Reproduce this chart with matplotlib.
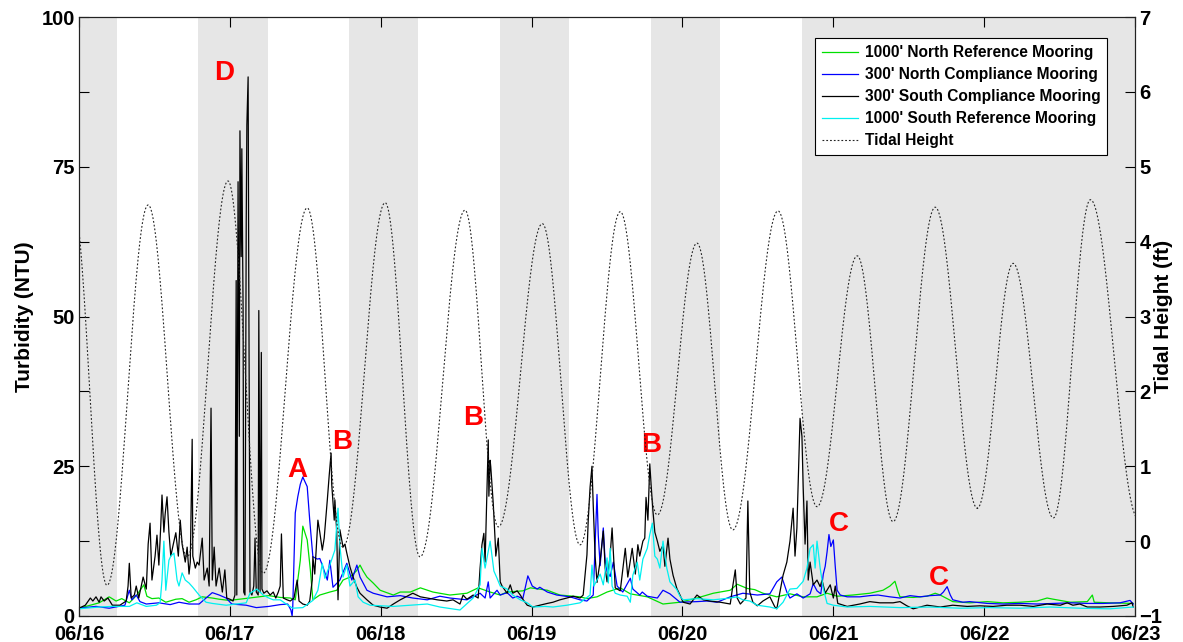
import numpy as np
import matplotlib
matplotlib.use("Agg")
import matplotlib.pyplot as plt
from matplotlib.ticker import FixedLocator

plt.rcParams['font.family'] = ['Liberation Sans', 'DejaVu Sans']
plt.rcParams['font.weight'] = 'bold'

# ---- data (time in hours since 06/16 00:00) ------------------------------
day_labels = ['06/16', '06/17', '06/18', '06/19', '06/20', '06/21', '06/22', '06/23']

# night-time periods (shaded)
night_start = [0, 19, 43, 67, 91, 115]
night_end = [6, 30, 54, 78, 102, 168]

# turbidity (NTU), (hour, value)
north_ref_1000 = [
    (0.0, 1.3), (1.8, 1.8), (3.2, 2.2), (4.8, 3.2), (5.9, 2.5), (6.8, 2.9), (8.0, 2.2), (9.2, 3.5),
    (10.3, 5.2), (10.8, 3.3), (11.6, 2.9), (12.7, 3.0), (13.8, 2.3), (15.4, 2.8), (16.4, 2.9),
    (17.5, 2.3), (18.6, 2.7), (19.6, 3.2), (21.2, 3.0), (22.3, 2.8), (23.9, 2.6), (25.5, 2.8),
    (27.1, 3.0), (28.6, 3.2), (30.2, 3.4), (32.0, 3.1), (33.6, 3.0), (34.4, 2.7), (35.2, 9.3),
    (35.6, 15.0), (36.3, 12.7), (36.8, 7.7), (37.2, 2.7), (38.3, 3.5), (39.9, 4.0), (41.0, 4.3),
    (42.0, 6.0), (43.1, 6.5), (44.1, 7.5), (44.7, 8.5), (45.2, 7.5), (45.8, 6.5), (46.8, 5.5),
    (47.9, 4.3), (50.0, 3.5), (51.1, 4.0), (52.7, 4.0), (54.3, 4.7), (56.3, 4.0), (59.0, 3.5),
    (61.7, 3.8), (63.5, 4.7), (65.4, 4.0), (67.0, 3.5), (68.1, 4.0), (70.6, 4.2), (71.8, 4.7),
    (74.5, 4.3), (76.5, 3.5), (79.7, 3.2), (80.8, 2.9), (82.4, 3.2), (84.0, 4.0), (86.1, 4.7),
    (87.7, 3.7), (90.4, 3.2), (92.9, 2.0), (95.6, 2.3), (98.3, 3.0), (100.9, 3.8), (103.6, 4.3),
    (104.7, 5.3), (106.3, 4.6), (107.5, 4.4), (108.8, 3.8), (111.0, 3.2), (113.1, 3.7),
    (115.2, 3.2), (117.4, 3.2), (119.0, 3.8), (120.6, 3.3), (123.1, 3.5), (125.8, 3.8),
    (127.9, 4.3), (129.0, 5.0), (129.8, 5.8), (130.3, 4.0), (130.6, 3.2), (132.7, 3.1),
    (134.9, 3.3), (136.2, 3.8), (137.0, 3.5), (139.0, 2.4), (141.7, 2.2), (144.5, 2.4),
    (147.0, 2.2), (149.7, 2.3), (152.4, 2.5), (154.0, 3.0), (155.0, 2.8), (157.7, 2.3),
    (160.4, 2.4), (161.2, 3.5), (161.5, 2.3), (164.0, 2.2), (167.7, 2.1),
]

north_comp_300 = [
    (0.0, 1.3), (2.7, 1.6), (4.8, 1.3), (7.3, 1.8), (8.0, 4.3), (8.4, 2.7), (9.1, 3.5), (9.7, 2.4),
    (10.7, 2.0), (12.7, 2.2), (14.5, 1.9), (15.9, 2.3), (17.5, 2.0), (19.1, 2.0), (20.2, 3.0),
    (21.2, 3.9), (22.3, 3.5), (23.4, 3.0), (24.3, 2.0), (26.6, 1.8), (28.2, 1.4), (30.2, 1.6),
    (32.0, 1.9), (33.2, 2.0), (33.7, 1.0), (33.9, 0.0), (34.0, 1.5), (34.4, 17.2), (34.8, 19.9),
    (35.2, 22.0), (35.6, 23.2), (36.3, 21.6), (36.7, 16.0), (37.2, 9.9), (37.9, 9.5), (38.3, 9.6),
    (38.8, 8.2), (39.5, 6.0), (39.9, 9.3), (40.4, 4.8), (41.5, 6.0), (42.6, 8.8), (43.4, 6.0),
    (44.2, 8.5), (44.7, 6.5), (45.8, 4.3), (46.8, 3.8), (49.0, 3.2), (51.1, 3.4), (53.1, 3.0),
    (55.4, 2.7), (57.4, 3.3), (59.0, 3.0), (61.7, 2.7), (63.8, 3.8), (64.6, 3.0), (65.1, 5.7),
    (65.4, 3.0), (66.5, 4.3), (67.0, 3.5), (68.1, 3.9), (69.0, 3.0), (69.7, 3.3), (70.6, 2.9),
    (71.4, 6.7), (72.1, 5.0), (72.9, 4.5), (73.3, 4.8), (74.5, 4.0), (76.0, 3.5), (78.1, 3.2),
    (79.7, 2.7), (80.8, 2.5), (81.8, 3.5), (82.4, 20.3), (82.6, 13.5), (82.9, 8.4), (83.4, 14.7),
    (83.7, 9.0), (84.0, 7.5), (84.5, 6.6), (85.0, 9.0), (85.6, 5.0), (86.5, 4.0), (87.7, 6.3),
    (88.1, 4.5), (89.2, 3.5), (89.6, 4.0), (90.4, 3.3), (92.0, 3.0), (92.9, 4.3), (94.0, 3.7),
    (95.6, 2.3), (98.3, 2.4), (99.9, 2.5), (101.5, 2.3), (103.6, 3.2), (105.6, 3.8), (107.9, 3.5),
    (109.9, 3.7), (111.0, 5.7), (111.8, 6.5), (112.6, 4.0), (113.1, 3.0), (114.2, 3.7),
    (115.2, 3.0), (116.3, 3.7), (116.8, 5.4), (117.4, 4.2), (118.0, 3.7), (118.4, 7.0),
    (118.7, 8.3), (119.0, 10.7), (119.3, 13.6), (119.6, 11.6), (120.0, 12.7), (120.3, 8.3),
    (120.6, 4.3), (121.1, 3.5), (122.2, 3.2), (124.2, 3.2), (125.8, 3.4), (127.1, 3.5),
    (129.0, 3.2), (130.6, 3.0), (132.2, 3.4), (133.8, 3.2), (135.4, 3.4), (137.0, 3.5),
    (137.5, 4.0), (138.1, 4.9), (138.6, 3.5), (139.0, 2.7), (140.6, 2.3), (141.7, 2.4),
    (144.5, 2.1), (147.0, 2.0), (149.7, 2.1), (152.4, 2.0), (155.0, 2.1), (157.7, 2.2),
    (160.4, 2.1), (162.9, 2.1), (165.6, 2.2), (167.2, 2.6), (167.7, 2.0),
]

south_comp_300 = [
    (0.0, 1.3), (1.0, 1.8), (1.8, 3.0), (2.2, 2.5), (2.7, 3.2), (3.2, 2.3), (3.5, 3.2), (4.0, 2.5),
    (4.6, 3.0), (5.3, 1.8), (6.5, 1.8), (7.5, 2.5), (7.8, 5.0), (8.0, 8.8), (8.3, 3.0), (8.8, 3.5),
    (9.1, 5.0), (9.5, 3.0), (10.2, 6.5), (10.7, 4.5), (11.0, 12.0), (11.3, 15.5), (11.6, 6.0),
    (12.1, 10.0), (12.4, 13.5), (12.7, 8.5), (13.0, 15.0), (13.2, 20.2), (13.5, 14.0),
    (13.7, 17.0), (14.0, 19.9), (14.3, 14.0), (14.6, 10.0), (15.0, 12.0), (15.4, 13.9),
    (15.8, 10.0), (16.1, 16.0), (16.4, 12.0), (16.9, 9.0), (17.2, 11.5), (17.5, 7.0), (17.7, 9.0),
    (18.0, 29.5), (18.1, 10.0), (18.5, 8.0), (18.8, 9.0), (19.1, 8.5), (19.6, 13.0), (19.9, 6.0),
    (20.4, 8.0), (20.7, 5.0), (21.0, 34.7), (21.2, 6.0), (21.5, 11.5), (21.8, 5.0), (22.3, 8.0),
    (22.8, 4.0), (23.2, 7.7), (23.5, 3.0), (24.0, 2.8), (24.5, 2.5), (24.8, 3.5), (25.0, 56.0),
    (25.1, 3.5), (25.3, 72.5), (25.5, 30.0), (25.6, 81.0), (25.8, 60.0), (25.9, 78.0),
    (26.1, 51.0), (26.2, 4.0), (26.4, 3.5), (26.6, 66.0), (26.7, 82.0), (26.9, 90.0),
    (27.0, 57.0), (27.2, 4.0), (27.5, 3.5), (27.8, 5.0), (28.0, 13.0), (28.2, 4.0), (28.5, 3.5),
    (28.6, 51.0), (28.8, 4.0), (29.0, 44.0), (29.1, 4.5), (29.4, 3.8), (29.9, 4.2), (30.4, 3.5),
    (30.9, 4.0), (31.3, 3.0), (31.7, 4.0), (32.0, 5.0), (32.2, 13.7), (32.5, 3.0), (33.1, 2.7),
    (33.6, 2.5), (34.2, 3.0), (34.7, 6.0), (35.0, 2.5), (35.6, 2.0), (36.3, 1.8), (36.7, 2.5),
    (37.1, 6.0), (37.2, 9.9), (37.5, 7.0), (38.0, 16.0), (38.3, 14.0), (38.7, 11.0), (39.0, 13.0),
    (39.5, 19.4), (39.8, 23.5), (40.1, 27.2), (40.2, 22.0), (40.6, 16.0), (40.7, 19.4),
    (41.0, 14.0), (41.2, 2.7), (41.5, 14.4), (42.0, 11.5), (42.3, 12.0), (42.6, 10.5),
    (43.1, 8.2), (43.6, 6.5), (44.2, 4.8), (44.7, 3.8), (45.8, 2.7), (46.8, 1.8), (47.9, 1.5),
    (49.0, 1.3), (50.0, 2.0), (51.1, 2.7), (53.1, 3.8), (54.3, 3.2), (55.4, 3.0), (57.0, 2.7),
    (58.5, 2.5), (59.5, 2.7), (60.6, 2.0), (61.1, 3.5), (61.7, 2.8), (62.7, 3.5), (63.5, 3.0),
    (63.8, 8.0), (64.1, 11.9), (64.4, 13.8), (64.6, 9.0), (64.9, 21.5), (65.1, 29.4),
    (65.2, 20.0), (65.4, 26.0), (65.5, 24.9), (65.9, 18.7), (66.2, 12.5), (66.3, 10.0),
    (66.7, 13.0), (67.0, 5.7), (67.3, 5.0), (67.5, 4.7), (68.1, 3.8), (68.6, 5.2), (69.0, 3.8),
    (69.7, 4.2), (70.2, 3.5), (70.6, 2.8), (71.3, 1.8), (72.2, 1.5), (73.3, 1.8), (74.5, 2.1),
    (75.4, 2.3), (76.5, 2.7), (77.6, 3.0), (78.6, 3.3), (79.7, 3.0), (80.2, 3.5), (80.8, 10.2),
    (81.0, 15.9), (81.3, 21.5), (81.6, 25.0), (81.8, 18.5), (82.1, 10.0), (82.4, 5.6),
    (82.9, 9.2), (83.4, 14.2), (83.7, 8.0), (84.0, 5.7), (84.5, 10.2), (84.8, 14.7), (85.3, 4.7),
    (86.1, 4.2), (86.9, 11.3), (87.3, 6.5), (88.0, 11.3), (88.5, 7.0), (88.9, 11.9), (89.2, 10.0),
    (89.7, 12.5), (90.0, 13.0), (90.2, 19.8), (90.5, 16.0), (90.8, 25.4), (91.0, 22.0),
    (91.3, 17.5), (91.6, 14.0), (92.0, 12.5), (92.4, 10.8), (92.9, 11.8), (93.2, 8.3),
    (93.7, 13.0), (94.0, 9.5), (94.5, 6.8), (95.1, 4.6), (95.6, 3.5), (96.1, 2.3), (97.2, 2.0),
    (98.3, 3.5), (99.3, 2.7), (100.4, 2.5), (102.0, 2.3), (103.6, 2.0), (104.0, 5.0),
    (104.4, 7.7), (104.7, 3.0), (105.2, 2.0), (106.1, 3.0), (106.4, 19.2), (106.7, 4.0),
    (107.2, 2.3), (107.9, 1.7), (108.8, 2.5), (109.9, 3.2), (110.7, 1.5), (111.0, 1.2),
    (112.0, 6.8), (112.6, 9.0), (113.1, 12.5), (113.6, 18.0), (113.9, 10.0), (114.2, 14.7),
    (114.4, 22.0), (114.7, 33.0), (115.0, 30.0), (115.2, 21.5), (115.5, 12.0), (115.8, 19.2),
    (116.0, 6.0), (116.3, 9.0), (116.8, 5.2), (117.4, 6.0), (117.9, 4.9), (118.2, 6.0),
    (118.7, 3.8), (119.5, 5.2), (120.0, 3.0), (120.3, 5.0), (120.7, 2.1), (122.2, 1.6),
    (124.2, 2.0), (125.8, 2.4), (127.4, 2.2), (129.5, 2.2), (130.6, 2.4), (131.7, 1.7),
    (132.7, 1.2), (134.9, 1.8), (137.0, 1.5), (139.0, 1.8), (141.3, 1.6), (143.3, 1.7),
    (145.4, 1.6), (147.6, 1.8), (149.7, 1.8), (151.8, 1.6), (154.0, 2.0), (156.1, 1.8),
    (157.2, 2.2), (158.1, 1.8), (159.2, 2.0), (160.4, 1.5), (162.4, 1.5), (164.5, 1.6),
    (166.7, 1.8), (167.5, 2.2), (167.7, 1.5),
]

south_ref_1000 = [
    (0.0, 1.2), (3.2, 1.5), (5.3, 1.6), (8.0, 1.6), (9.2, 2.2), (10.7, 1.6), (12.3, 1.8),
    (12.9, 2.2), (13.2, 6.0), (13.5, 12.5), (13.8, 4.3), (14.3, 9.3), (14.6, 10.0), (15.1, 10.5),
    (15.6, 6.0), (15.9, 5.0), (16.4, 7.2), (16.9, 6.0), (17.5, 5.5), (18.1, 4.8), (19.1, 3.5),
    (20.2, 2.3), (21.2, 2.1), (23.4, 1.8), (25.0, 2.0), (26.6, 2.2), (27.2, 3.8), (28.3, 4.5),
    (29.3, 3.5), (30.2, 3.0), (30.9, 2.7), (32.0, 2.7), (33.1, 1.9), (34.0, 1.3), (35.6, 1.4),
    (37.2, 2.6), (38.0, 4.3), (38.7, 8.8), (39.1, 6.3), (39.9, 8.5), (40.7, 11.0), (41.2, 18.0),
    (41.5, 11.7), (42.0, 6.5), (42.6, 8.5), (43.1, 5.0), (43.9, 6.0), (44.4, 3.2), (45.2, 2.3),
    (46.3, 1.8), (50.0, 1.6), (52.7, 1.8), (55.4, 2.0), (57.4, 1.5), (60.6, 1.0), (62.7, 3.0),
    (63.8, 5.2), (64.1, 11.3), (64.6, 8.0), (65.4, 12.5), (65.7, 10.0), (66.0, 7.5), (66.5, 6.3),
    (67.0, 5.0), (68.1, 4.5), (69.0, 3.5), (70.2, 2.7), (71.3, 2.2), (72.2, 1.5), (74.1, 1.6),
    (75.4, 1.5), (77.6, 1.8), (79.7, 2.2), (81.3, 3.5), (81.6, 8.5), (81.9, 5.0), (82.4, 6.0),
    (82.9, 7.0), (83.4, 5.2), (84.0, 9.7), (84.2, 5.5), (84.5, 11.3), (84.8, 5.0), (85.3, 3.8),
    (86.1, 3.5), (87.2, 3.3), (87.7, 2.3), (88.1, 6.8), (88.8, 9.0), (89.2, 6.0), (89.7, 9.5),
    (90.4, 11.3), (90.8, 13.6), (91.2, 15.5), (91.6, 10.0), (92.0, 9.5), (92.4, 8.0),
    (92.9, 12.5), (93.5, 8.0), (94.0, 5.7), (95.1, 4.4), (95.6, 3.3), (96.1, 2.7), (98.3, 2.9),
    (100.9, 2.7), (103.6, 3.0), (104.7, 3.2), (105.6, 2.7), (106.7, 2.5), (107.9, 1.8),
    (109.9, 1.5), (111.0, 1.2), (112.0, 2.3), (112.6, 3.5), (113.1, 4.5), (114.2, 4.6),
    (115.2, 5.8), (115.8, 8.0), (116.3, 11.3), (116.8, 11.9), (117.1, 8.0), (117.4, 12.5),
    (117.9, 8.0), (118.4, 4.6), (119.0, 2.1), (120.0, 1.8), (122.2, 1.5), (125.8, 1.6),
    (130.6, 1.4), (135.4, 1.5), (140.2, 1.3), (144.9, 1.4), (149.7, 1.3), (154.5, 1.5),
    (159.2, 1.3), (164.0, 1.2), (167.7, 1.5),
]

# tidal high / low waters (hour, ft)
tide_hours = [-1.0, 4.45, 11.0, 17.2, 23.7, 29.3, 36.3, 42.0, 48.7, 54.25, 61.4, 66.7, 73.7, 79.7,
              86.1, 92.0, 98.3, 104.0, 111.2, 117.4, 123.8, 129.5, 136.2, 142.9, 148.6, 155.0,
              160.9, 168.5]
tide_feet = [4.55, -0.59, 4.49, -0.21, 4.81, -0.43, 4.45, -0.08, 4.52, -0.21, 4.42, 0.19, 4.24,
             -0.05, 4.40, 0.35, 3.98, 0.15, 4.41, 0.46, 3.81, 0.26, 4.46, 0.44, 3.71, 0.31, 4.56,
             0.30]

# event annotations: (label, hour, NTU at text baseline)
events = [('D', 23.1, 89.5), ('A', 34.7, 23.2), ('B', 41.8, 27.9), ('B', 62.7, 31.9),
          ('B', 91.0, 27.4), ('C', 120.9, 14.2), ('C', 136.8, 5.2)]

series = [
    ("1000' North Reference Mooring", north_ref_1000, '#00e000'),
    ("300' North Compliance Mooring", north_comp_300, '#0000ff'),
    ("300' South Compliance Mooring", south_comp_300, '#000000'),
    ("1000' South Reference Mooring", south_ref_1000, '#00f0f0'),
]


def tide_curve(hours, feet, step=0.05):
    """Half-cosine shape between successive high and low waters."""
    ts, hs = [], []
    for i in range(len(hours) - 1):
        t0, t1 = hours[i], hours[i + 1]
        h0, h1 = feet[i], feet[i + 1]
        tt = np.arange(t0, t1, step)
        frac = (tt - t0) / (t1 - t0)
        ts.append(tt)
        hs.append(h1 + (h0 - h1) * (1 + np.cos(np.pi * frac)) / 2)
    return np.concatenate(ts), np.concatenate(hs)


# ---- figure ---------------------------------------------------------------
fig = plt.figure(figsize=(11.83, 6.42), dpi=100)
ax = fig.add_axes([0.0668, 0.0405, 0.8927, 0.9330])

for s, e in zip(night_start, night_end):
    ax.axvspan(s, e, color='#e6e6e6', lw=0, zorder=0)

handles = []
for name, pts, col in series:
    t, v = zip(*pts)
    ln, = ax.plot(t, v, color=col, lw=0.9, label=name, zorder=2)
    handles.append(ln)

for txt, hx, ny in events:
    ax.text(hx, ny, txt, color='#ff0000', fontsize=20, fontweight='bold',
            ha='center', va='baseline', zorder=5)

ax.set_xlim(0, 168)
ax.set_ylim(0, 100)
ax.set_xticks(np.arange(0, 169, 24))
ax.set_xticklabels(day_labels)
ax.set_yticks([0, 25, 50, 75, 100])
ax.yaxis.set_minor_locator(FixedLocator([12.5, 37.5, 62.5, 87.5]))
ax.tick_params(axis='x', direction='in', top=True, length=7.5, width=0.8,
               labelsize=14.5, pad=6.5)
ax.tick_params(axis='y', which='both', direction='in', length=7.5, width=0.8,
               labelsize=14.5, pad=3)
ax.set_ylabel('Turbidity (NTU)', fontsize=15, fontweight='bold')
ax.yaxis.set_label_coords(-0.043, 0.5)

ax2 = ax.twinx()
tt, hh = tide_curve(tide_hours, tide_feet)
tide_ln, = ax2.plot(tt, hh, color='#222222', lw=0.8, linestyle=(0, (1.6, 1.8)),
                    label='Tidal Height')
handles.append(tide_ln)
ax2.set_xlim(0, 168)
ax2.set_ylim(-1, 7)
ax2.set_yticks(np.arange(-1, 8, 1))
ax2.tick_params(axis='y', direction='in', length=7.5, width=0.8, labelsize=14.5, pad=3)
ax2.set_ylabel('Tidal Height (ft)', fontsize=15, fontweight='bold')
ax2.yaxis.set_label_coords(1.018, 0.5)

for a in (ax, ax2):
    for sp in a.spines.values():
        sp.set_color('#222222')
        sp.set_linewidth(0.8)

leg = ax2.legend(handles=handles, loc='upper right', bbox_to_anchor=(0.9738, 0.9644),
                 borderaxespad=0, fontsize=11.2, frameon=True, fancybox=False,
                 framealpha=1, edgecolor='black', handlelength=2.3,
                 handletextpad=0.45, labelspacing=0.45, borderpad=0.45)
leg.get_frame().set_linewidth(0.8)
for t in leg.get_texts():
    t.set_fontweight('bold')

fig.savefig('out.png', dpi=100)
